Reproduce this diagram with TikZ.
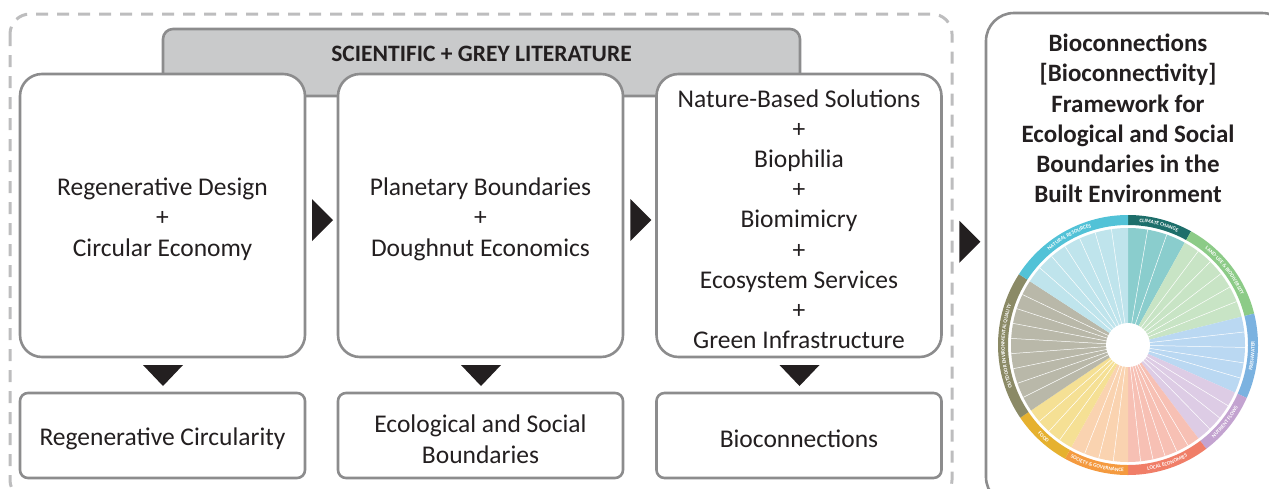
\documentclass[tikz,border=0pt]{standalone}
\usepackage{fontspec}
\setmainfont{Carlito}
\usetikzlibrary{calc,decorations.text}

\definecolor{boxgrey}{HTML}{8C8C8D}
\definecolor{dashgrey}{HTML}{BDBDBE}
\definecolor{headgrey}{HTML}{C9CACB}
\definecolor{ink}{HTML}{231F20}
% wheel colours: F = slice fill, R = outer ring
\definecolor{climF}{HTML}{8ACDCD}\definecolor{climR}{HTML}{1D6E6A}
\definecolor{landF}{HTML}{C8E4C5}\definecolor{landR}{HTML}{8CCB87}
\definecolor{freshF}{HTML}{BAD8F2}\definecolor{freshR}{HTML}{7BB2E0}
\definecolor{nutrF}{HTML}{DDCCE5}\definecolor{nutrR}{HTML}{C3A3D0}
\definecolor{locF}{HTML}{F7C0B4}\definecolor{locR}{HTML}{F07E68}
\definecolor{socF}{HTML}{FAD3B0}\definecolor{socR}{HTML}{F49A3F}
\definecolor{foodF}{HTML}{F5E094}\definecolor{foodR}{HTML}{E6B12F}
\definecolor{outF}{HTML}{B9B8A9}\definecolor{outR}{HTML}{8B8A66}
\definecolor{natF}{HTML}{BFE4EC}\definecolor{natR}{HTML}{52C2D7}

\newcommand\bodyfont{\fontsize{25.5}{30.2}\selectfont}
\newcommand\ringfont{\fontsize{5.3}{5.5}\selectfont\bfseries}
\newcommand\padtop{\rule{0pt}{25pt}}

\begin{document}
\begin{tikzpicture}[
    x=1pt, y=1pt,
    bigbox/.style={draw=boxgrey, line width=2.6pt, fill=white, rounded corners=22pt,
      minimum width=285pt, minimum height=283pt, align=center, font=\bodyfont, text=ink},
    smallbox/.style={bigbox, rounded corners=8pt, minimum height=85pt},
    litbox/.style={draw=boxgrey, line width=2.6pt, fill=headgrey, rounded corners=10pt,
      minimum width=637pt, minimum height=67pt},
    panel/.style={draw=boxgrey, line width=2.6pt, fill=white, rounded corners=28pt,
      minimum width=304pt, minimum height=492pt},
    tri/.style={fill=ink},
    slice/.style={draw=white, line width=0.5pt},
    ringlabel/.style={decorate, decoration={text along path, text align=center,
      text color=white, text={|\ringfont|#1}}}
]
  \useasboundingbox (0,0) rectangle (1269,-488);
  \clip (0,0) rectangle (1269,-488);

  % dashed frame round the literature part
  \draw[dashgrey, line width=3pt, dash pattern=on 12pt off 9pt, rounded corners=20pt]
    (10,-14) rectangle (952,-500);

  % header behind the three boxes
  \node[litbox] (lit) at (481.5,-62.5) {};
  \node[font=\fontsize{23.5}{26}\selectfont\bfseries, text=ink] (littxt) at (481.5,-53.5)
    {SCIENTIFIC + GREY LITERATURE};

  % main boxes
  \node[bigbox] (reg) at (162.5,-215.5) {\padtop Regenerative Design\\+\\Circular Economy};
  \node[bigbox] (plan) at (480.5,-215.5) {\padtop Planetary Boundaries\\+\\Doughnut Economics};
  \node[bigbox] (nbs) at (799,-215.5) {\padtop Nature-Based Solutions\\+\\Biophilia\\+\\Biomimicry\\+\\Ecosystem Services\\+\\Green Infrastructure};

  % result boxes
  \node[smallbox] (regc) at (162.5,-435.5) {\padtop Regenerative Circularity};
  \node[smallbox] (ecob) at (480.5,-435.5) {\padtop Ecological and Social\\Boundaries};
  \node[smallbox] (bioc) at (799,-435.5) {\padtop Bioconnections};

  % right panel
  \node[panel] (frame) at (1138,-259) {};
  \node[font=\fontsize{25}{30.2}\selectfont\bfseries, text=ink, align=center] (title) at (1128,-118.5)
    {Bioconnections\\{[}Bioconnectivity{]}\\Framework for\\Ecological and Social\\Boundaries in the\\Built Environment};

  % arrow heads between boxes
  \fill[tri] ($(reg.east)!0.5!(plan.west)$) ++(-9.5,16.5) -- ++(21,-21) -- ++(-21,-21) -- cycle;
  \fill[tri] ($(plan.east)!0.5!(nbs.west)$) ++(-9.5,16.5) -- ++(21,-21) -- ++(-21,-21) -- cycle;
  \fill[tri] ($(nbs.east)!0.5!(frame.west)$) ++(-4.5,16.5) -- ++(21,-21) -- ++(-21,-21) -- cycle;

  \fill[tri] ($(reg.south)!0.5!(regc.north)$) ++(-19.5,10) -- ++(40,0) -- ++(-20,-21) -- cycle;
  \fill[tri] ($(plan.south)!0.5!(ecob.north)$) ++(-19.5,10) -- ++(40,0) -- ++(-20,-21) -- cycle;
  \fill[tri] ($(nbs.south)!0.5!(bioc.north)$) ++(-19.5,10) -- ++(40,0) -- ++(-20,-21) -- cycle;

  % wheel
  \begin{scope}[shift={(1128,-345)}]
    \foreach \a/\b/\n/\nm in {61/90/3/clim, 14/61/6/land, -24/14/5/fresh, -53/-24/4/nutr,
                              -90/-53/6/loc, -119/-90/4/soc, -146/-119/4/food,
                              147/214/9/out, 90/147/7/nat} {
      \fill[fill=\nm F] (0,0) -- (\a:117) arc[start angle=\a, end angle=\b, radius=117pt] -- cycle;
      \fill[fill=\nm R] (\a:130) arc[start angle=\a, end angle=\b, radius=130pt]
        -- (\b:120) arc[start angle=\b, end angle=\a, radius=120pt] -- cycle;
      \pgfmathtruncatemacro\m{\n-1}
      \foreach \i in {1,...,\m} {
        \draw[slice] (0,0) -- ({\a+(\b-\a)*\i/\n}:117);
      }
    }
    \fill[white] (0,0) circle[radius=22pt];

    % ring labels
    \path[ringlabel={CLIMATE CHANGE}] (90:123.3) arc[start angle=90, end angle=61, radius=123.3pt];
    \path[ringlabel={LAND-USE {\&} BIODIVERSITY}] (61:123.3) arc[start angle=61, end angle=14, radius=123.3pt];
    \path[ringlabel={NATURAL RESOURCES}] (147:123.3) arc[start angle=147, end angle=90, radius=123.3pt];
    \path[ringlabel={OUTDOOR ENVIRONMENTAL QUALITY}] (214:123.3) arc[start angle=214, end angle=147, radius=123.3pt];
    \path[ringlabel={FRESHWATER}] (-24:126.7) arc[start angle=-24, end angle=14, radius=126.7pt];
    \path[ringlabel={NUTRIENT FLOWS}] (-53:126.7) arc[start angle=-53, end angle=-24, radius=126.7pt];
    \path[ringlabel={LOCAL ECONOMIES}] (-90:126.7) arc[start angle=-90, end angle=-53, radius=126.7pt];
    \path[ringlabel={SOCIETY {\&} GOVERNANCE}] (-119:126.7) arc[start angle=-119, end angle=-90, radius=126.7pt];
    \path[ringlabel={FOOD}] (-146:126.7) arc[start angle=-146, end angle=-119, radius=126.7pt];
  \end{scope}
\end{tikzpicture}
\end{document}
